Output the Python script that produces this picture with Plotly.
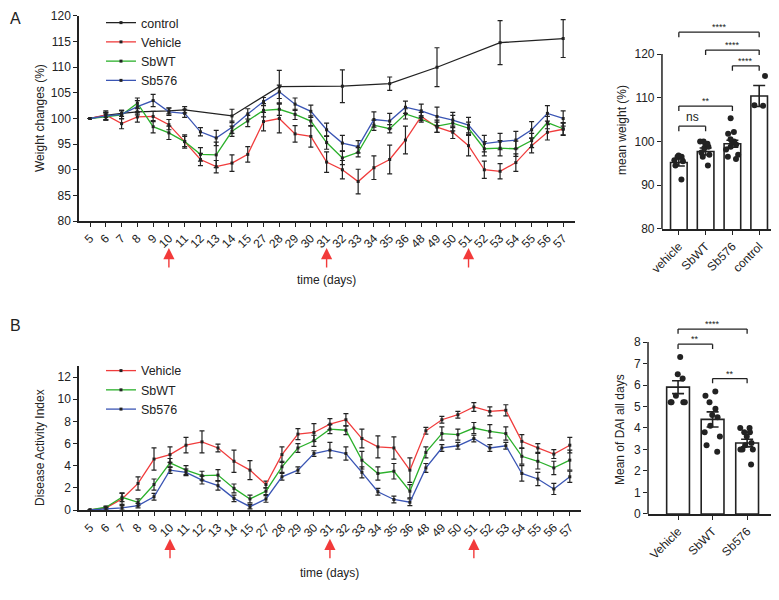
import plotly.graph_objects as go

# dias do experimento (eixo categórico)
days = ["5", "6", "7", "8", "9", "10", "11", "12", "13", "14", "15", "27", "28", "29", "30",
        "31", "32", "33", "34", "35", "36", "48", "49", "50", "51", "52", "53", "54", "55", "56", "57"]
arrow_days = ["10", "31", "51"]

# A - variação de peso (%)
w_control = [100, 100.6, 101.0, 101.3, None, 101.5, 101.7, None, None, 100.5, None, None, 106.2, None, None,
             None, 106.3, None, None, 106.8, None, None, 110.0, None, None, None, 114.8, None, None, None, 115.6]
w_control_err = [0, 0.9, 0.6, 0.6, 0, 0.6, 0.6, 0, 0, 1.3, 0, 0, 3.2, 0, 0,
                 0, 3.2, 0, 0, 1.3, 0, 0, 3.8, 0, 0, 0, 4.3, 0, 0, 0, 3.7]
w_vehicle = [100, 100.7, 99.0, 100.3, 100.4, 98.8, 95.5, 92.0, 90.6, 91.3, 93.0, 99.4, 100.0, 97.0, 96.5,
             91.5, 90.0, 87.7, 90.4, 92.0, 95.8, 100.4, 98.3, 97.3, 94.7, 90.0, 89.7, 91.4, 94.7, 97.3, 97.9]
w_vehicle_err = [0, 0.5, 1.0, 1.0, 1.0, 1.0, 1.3, 1.2, 1.2, 1.6, 1.5, 1.8, 2.8, 1.6, 2.1,
                 2.0, 1.8, 2.4, 2.3, 2.8, 2.7, 0.8, 1.0, 1.2, 2.0, 1.7, 1.5, 1.7, 1.4, 1.5, 1.2]
w_sbwt = [100, 100.3, 100.7, 103.0, 98.4, 97.2, 95.5, 93.0, 92.9, 97.5, 99.5, 101.6, 101.8, 100.8, 99.5,
          95.3, 92.3, 93.4, 98.7, 98.0, 100.9, 99.9, 98.5, 99.1, 98.1, 94.1, 94.2, 94.1, 95.7, 99.2, 98.0]
w_sbwt_err = [0, 0.6, 0.8, 1.0, 1.2, 1.3, 1.0, 1.3, 2.5, 1.0, 1.1, 1.3, 1.2, 1.0, 1.0,
              1.3, 1.3, 0.9, 1.0, 0.8, 1.0, 0.6, 1.2, 1.5, 1.2, 1.4, 1.5, 1.5, 1.4, 1.2, 1.2]
w_sb576 = [100, 100.5, 100.8, 102.3, 103.5, 101.3, 101.0, 97.4, 96.2, 98.3, 100.9, 103.3, 105.2, 102.8, 101.4,
           97.8, 95.2, 94.5, 99.8, 99.5, 102.2, 101.5, 100.4, 99.7, 98.7, 95.1, 95.5, 95.8, 97.8, 101.0, 100.0]
w_sb576_err = [0, 0.7, 0.8, 1.2, 1.2, 0.7, 0.8, 0.8, 1.5, 1.2, 1.0, 0.8, 1.3, 1.2, 1.2,
               1.3, 1.5, 1.2, 1.5, 1.5, 1.2, 1.3, 1.8, 1.5, 1.5, 1.6, 1.6, 1.7, 1.6, 1.5, 1.5]

# A - peso médio por grupo
mw_groups = ["vehicle", "SbWT", "Sb576", "control"]
mw_mean = [95.2, 97.7, 99.5, 110.4]
mw_err = [0.8, 0.8, 0.8, 2.4]
mw_points = [
    [95.7, 96.5, 96.8, 96.5, 95.5, 94.5, 91.3],
    [100.0, 99.5, 98.8, 98.5, 100.0, 97.5, 96.5, 94.5, 97.0, 99.5],
    [105.3, 102.2, 101.8, 100.5, 99.7, 99.3, 98.8, 98.2, 97.0, 96.5, 96.0, 100.0],
    [115.0, 108.2, 108.3],
]
mw_sig = [(0, 3, 125.0, "****"), (1, 3, 120.9, "****"), (2, 3, 117.3, "****"),
          (0, 2, 108.1, "**"), (0, 1, 103.5, "ns")]

# B - índice de atividade da doença
d_vehicle = [0, 0.2, 1.0, 2.4, 4.6, 5.0, 5.85, 6.15, 5.6, 4.4, 3.6, 2.3, 5.0, 6.85, 7.0,
             7.75, 8.15, 6.45, 5.7, 5.6, 3.6, 7.15, 8.15, 8.6, 9.3, 8.9, 9.0, 6.2, 5.6, 5.05, 5.85]
d_vehicle_err = [0, 0.1, 0.5, 0.6, 1.0, 0.7, 0.7, 1.0, 0.35, 1.0, 0.85, 0.3, 0.7, 0.5, 0.8,
                 0.5, 0.55, 0.85, 1.0, 1.0, 1.1, 0.3, 0.3, 0.3, 0.4, 0.4, 0.5, 0.6, 0.4, 0.4, 0.7]
d_sbwt = [0, 0.25, 1.15, 0.7, 2.3, 4.25, 3.6, 3.1, 3.15, 1.95, 1.0, 1.7, 3.9, 5.6, 6.25,
          7.3, 7.2, 4.5, 3.3, 3.5, 1.7, 5.2, 6.9, 6.8, 7.4, 7.1, 6.9, 4.85, 4.4, 3.8, 4.5]
d_sbwt_err = [0, 0.1, 0.4, 0.3, 0.5, 0.4, 0.4, 0.4, 0.5, 0.4, 0.35, 0.3, 0.5, 0.4, 0.5,
              0.4, 0.4, 0.8, 0.6, 0.7, 0.6, 0.5, 0.6, 0.5, 0.5, 0.6, 0.6, 0.7, 0.7, 0.6, 0.9]
d_sb576 = [0, 0.1, 0.2, 0.4, 1.2, 3.6, 3.4, 2.7, 2.2, 1.05, 0.3, 1.0, 3.0, 3.6, 5.1,
           5.4, 5.1, 3.4, 1.65, 0.95, 0.7, 3.8, 5.6, 5.8, 6.45, 5.6, 5.8, 3.3, 2.8, 1.9, 3.0]
d_sb576_err = [0, 0.1, 0.2, 0.2, 0.3, 0.3, 0.3, 0.35, 0.4, 0.3, 0.2, 0.3, 0.3, 0.3, 0.25,
               0.7, 0.6, 0.5, 0.3, 0.3, 0.3, 0.4, 0.3, 0.3, 0.3, 0.3, 0.3, 0.7, 0.6, 0.5, 0.5]

# B - média do DAI
dai_groups = ["Vehicle", "SbWT", "Sb576"]
dai_mean = [5.9, 4.4, 3.3]
dai_err = [0.3, 0.35, 0.18]
dai_points = [
    [7.3, 6.5, 6.3, 5.5, 5.2, 5.2, 5.2, 5.2],
    [5.7, 5.5, 5.2, 4.9, 4.6, 4.5, 4.1, 3.8, 3.6, 3.2, 2.9],
    [4.0, 4.0, 3.8, 3.8, 3.6, 3.3, 3.2, 3.0, 3.0, 3.0, 2.3],
]
dai_sig = [(0, 2, 8.6, "****"), (0, 1, 7.9, "**"), (1, 2, 6.3, "**")]

RED, GREEN, BLUE, BLACK = "#f03c3c", "#2bb02b", "#3a55b4", "#222222"
FONT = "Liberation Sans, Arial, sans-serif"

fig = go.Figure()


def add_line(y, err, name, color, xa, ya, legend):
    fig.add_trace(go.Scatter(
        x=days, y=y, name=name, mode="lines+markers", connectgaps=True,
        line=dict(color=color, width=1.3),
        marker=dict(color=BLACK, size=3, symbol="square"),
        error_y=dict(type="data", array=err, color=BLACK, thickness=1.2, width=2.5),
        xaxis=xa, yaxis=ya, legend=legend))


add_line(w_control, w_control_err, "control", BLACK, "x", "y", "legend")
add_line(w_vehicle, w_vehicle_err, "Vehicle", RED, "x", "y", "legend")
add_line(w_sbwt, w_sbwt_err, "SbWT", GREEN, "x", "y", "legend")
add_line(w_sb576, w_sb576_err, "Sb576", BLUE, "x", "y", "legend")

add_line(d_vehicle, d_vehicle_err, "Vehicle", RED, "x3", "y3", "legend2")
add_line(d_sbwt, d_sbwt_err, "SbWT", GREEN, "x3", "y3", "legend2")
add_line(d_sb576, d_sb576_err, "Sb576", BLUE, "x3", "y3", "legend2")


def add_bars(groups, means, errs, points, xa, ya, width):
    fig.add_trace(go.Bar(
        x=groups, y=means, width=width, showlegend=False,
        marker=dict(color="white", line=dict(color=BLACK, width=1.6)),
        error_y=dict(type="data", array=errs, color=BLACK, thickness=1.6, width=6),
        xaxis=xa, yaxis=ya))
    for g, pts in zip(groups, points):
        fig.add_trace(go.Box(
            x=[g] * len(pts), y=pts, boxpoints="all", jitter=1.0, pointpos=0, width=width * 0.9,
            fillcolor="rgba(0,0,0,0)", line=dict(color="rgba(0,0,0,0)"),
            marker=dict(color=BLACK, size=6), showlegend=False, xaxis=xa, yaxis=ya))


add_bars(mw_groups, mw_mean, mw_err, mw_points, "x2", "y2", 0.62)
add_bars(dai_groups, dai_mean, dai_err, dai_points, "x4", "y4", 0.66)

tickfont = dict(family=FONT, size=12, color=BLACK)
axis_common = dict(showgrid=False, zeroline=False, linecolor=BLACK, linewidth=1.5, automargin=False,
                   ticks="outside", ticklen=4, tickwidth=1.3, tickcolor=BLACK, tickfont=tickfont)

# a página tem 8px de margem no body, por isso a figura é 771x592
fig.update_layout(
    width=771, height=592, margin=dict(l=0, r=0, t=0, b=0),
    paper_bgcolor="white", plot_bgcolor="white", barmode="overlay",
    font=dict(family=FONT, color=BLACK),
    xaxis=dict(domain=[0.0921, 0.7354], anchor="y", type="category", range=[-0.7, 30.75],
               tickangle=-45, showline=True, **axis_common),
    yaxis=dict(domain=[0.6402, 0.9865], anchor="x", range=[80, 120], dtick=5, showline=True,
               **axis_common),
    xaxis2=dict(domain=[0.8482, 1.0], anchor="y2", type="category", range=[-0.63, 3.74],
                tickangle=-45, showline=True, **axis_common),
    yaxis2=dict(domain=[0.6267, 0.974], anchor="x2", range=[80, 127],
                tickvals=[80, 90, 100, 110, 120], showline=False, **axis_common),
    xaxis3=dict(domain=[0.0921, 0.7432], anchor="y3", type="category", range=[-0.69, 30.7],
                tickangle=-45, showline=True, **axis_common),
    yaxis3=dict(domain=[0.152, 0.3953], anchor="x3", range=[0, 13], tickvals=[0, 2, 4, 6, 8, 10, 12],
                showline=True, **axis_common),
    xaxis4=dict(domain=[0.8301, 0.9909], anchor="y4", type="category", range=[-0.87, 2.72],
                tickangle=-45, showline=True, **axis_common),
    yaxis4=dict(domain=[0.1453, 0.4721], anchor="x4", range=[0, 9], tickvals=list(range(9)),
                showline=False, **axis_common),
    legend=dict(x=0.1206, y=1.0, xanchor="left", yanchor="top", bgcolor="rgba(0,0,0,0)",
                font=dict(family=FONT, size=12.5, color=BLACK)),
    legend2=dict(x=0.1206, y=0.4122, xanchor="left", yanchor="top", bgcolor="rgba(0,0,0,0)",
                 font=dict(family=FONT, size=12.5, color=BLACK)),
)

# linhas dos eixos y dos gráficos de barras (só até o último tick)
for xa, ya, y0, y1 in [("x2", "y2", 80, 120), ("x4", "y4", 0, 8)]:
    fig.add_shape(type="line", xref=f"{xa} domain", yref=ya, x0=0, x1=0, y0=y0, y1=y1,
                  line=dict(color=BLACK, width=1.5))

# colchetes de significância
for xa, ya, sig, drop, fs in [("x2", "y2", mw_sig, 1.15, 9), ("x4", "y4", dai_sig, 0.22, 9)]:
    for i, j, lvl, lab in sig:
        for x0, y0, x1, y1 in [(i, lvl - drop, i, lvl), (i, lvl, j, lvl), (j, lvl, j, lvl - drop)]:
            fig.add_shape(type="line", xref=xa, yref=ya, x0=x0, y0=y0, x1=x1, y1=y1,
                          line=dict(color=BLACK, width=1.3))
        fig.add_annotation(xref=xa, yref=ya, x=(i + j) / 2, y=lvl, text=lab, showarrow=False,
                           yanchor="bottom", yshift=0 if lab == "ns" else -2,
                           font=dict(family=FONT, size=12 if lab == "ns" else fs, color=BLACK))

# setas vermelhas (dias de tratamento)
for xa, ya, yy in [("x", "y", -0.132), ("x3", "y3", -0.2)]:
    for d in arrow_days:
        fig.add_annotation(xref=xa, yref=f"{ya} domain", x=days.index(d), y=yy, text="",
                           showarrow=True, ax=0, ay=21, arrowhead=2, arrowsize=1.6,
                           arrowwidth=1.4, arrowcolor="#f23a3a")

# títulos
titles = [
    ("Weight changes (%)", 0.0415, 0.8142, -90),
    ("mean weight (%)", 0.7964, 0.7939, -90),
    ("Disease Activity Index", 0.0415, 0.2584, -90),
    ("Mean of DAI all days", 0.7938, 0.2872, -90),
    ("time (days)", 0.4137, 0.5405, 0),
    ("time (days)", 0.4176, 0.0456, 0),
]
for txt, x, y, ang in titles:
    fig.add_annotation(xref="paper", yref="paper", x=x, y=y, text=txt, showarrow=False,
                       xanchor="center", yanchor="middle", textangle=ang,
                       font=dict(family=FONT, size=12, color=BLACK))

for txt, y, ya in [("A", 1.0, "top"), ("B", 0.4645, "middle")]:
    fig.add_annotation(xref="paper", yref="paper", x=0.0, y=y, text=txt, showarrow=False,
                       xanchor="left", yanchor=ya, font=dict(family=FONT, size=16, color=BLACK))

fig.write_html("out.html")
